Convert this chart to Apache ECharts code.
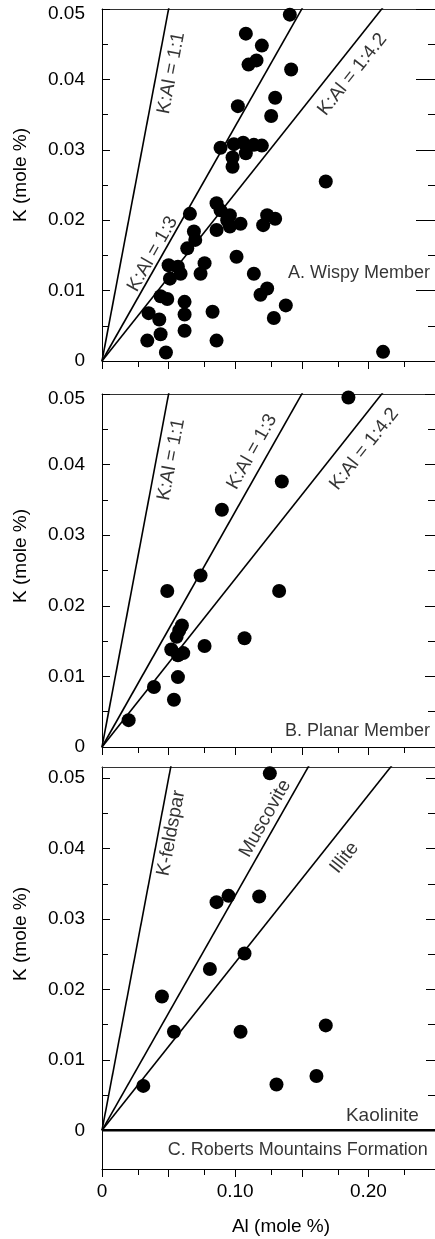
<!DOCTYPE html>
<html><head><meta charset="utf-8">
<script src="https://cdn.jsdelivr.net/npm/echarts@6/dist/echarts.min.js"></script>
<style>html,body{margin:0;padding:0;background:#fff}#chart{width:435px;height:1239px}</style>
</head><body><div id="chart"></div>
<script>
// ---------- DATA ----------
// Panel A: Wispy Member (Al, K in mole %)
const alA = [0.141,0.108,0.120,0.110,0.116,0.142,0.102,0.130,0.127,0.089,0.099,0.106,0.114,0.120,0.108,0.098,0.098,0.168,0.086,0.066,0.089,0.096,0.094,0.104,0.086,0.096,0.124,0.130,0.121,0.069,0.070,0.064,0.050,0.057,0.059,0.051,0.077,0.074,0.101,0.114,0.044,0.049,0.124,0.119,0.138,0.129,0.062,0.062,0.083,0.035,0.043,0.044,0.034,0.062,0.086,0.048,0.211];
const kA  = [0.0492,0.0465,0.0448,0.0421,0.0427,0.0414,0.0362,0.0374,0.0348,0.0303,0.0308,0.0310,0.0307,0.0306,0.0295,0.0289,0.0276,0.0255,0.0224,0.0209,0.0214,0.0207,0.0200,0.0195,0.0186,0.0191,0.0207,0.0202,0.0193,0.0184,0.0172,0.0160,0.0136,0.0134,0.0124,0.0117,0.0139,0.0124,0.0148,0.0124,0.0092,0.0088,0.0103,0.0094,0.0079,0.0061,0.0084,0.0066,0.0070,0.0068,0.0059,0.0038,0.0029,0.0043,0.0029,0.0012,0.0013];
// Panel B: Planar Member
const alB = [0.185,0.135,0.090,0.074,0.049,0.133,0.107,0.060,0.058,0.056,0.052,0.057,0.061,0.077,0.057,0.039,0.054,0.020];
const kB  = [0.0495,0.0376,0.0336,0.0243,0.0221,0.0221,0.0154,0.0172,0.0165,0.0156,0.0138,0.0130,0.0133,0.0143,0.0099,0.0085,0.0067,0.0038];
// Panel C: Roberts Mountains Formation
const alC = [0.126,0.086,0.095,0.118,0.107,0.081,0.045,0.054,0.104,0.168,0.031,0.131,0.161];
const kC  = [0.0507,0.0324,0.0333,0.0332,0.0251,0.0229,0.0190,0.0140,0.0140,0.0149,0.0063,0.0065,0.0077];

// Reference lines (end points, clipped by the plot frame)
const ratioNamesAB = ['K:Al = 1:1','K:Al = 1:3','K:Al = 1:4.2'];
const mineralNamesC = ['K-feldspar','Muscovite','Illite','Kaolinite'];
const lineEndAl = [0.06, 0.18, 0.252, 0.25];
const lineEndK  = [0.06, 0.06, 0.06, 0];
const panelNames = ['A. Wispy Member','B. Planar Member','C. Roberts Mountains Formation'];

// Ticks and tick labels
const xMajorTicks = [0,0.05,0.10,0.15,0.20,0.25];
const xMinorTicks = [0.027,0.077,0.127,0.177,0.227];
const xLabelValues = [0,0.10,0.20];
const xTickLabels = ['0','0.10','0.20'];
const yMajorTicks = [0,0.01,0.02,0.03,0.04,0.05];
const yMinorTicks = [0.005,0.015,0.025,0.035,0.045];
const yTickLabels = ['0','0.01','0.02','0.03','0.04','0.05'];
const xTitle = 'Al (mole %)';
const yTitle = 'K (mole %)';

// ---------- LAYOUT ----------
const FONT = "'Liberation Sans', Arial, Helvetica, sans-serif";
const grids = [
  {left:102, top:9, width:333, height:352},
  {left:102, top:394, width:333, height:353},
  {left:102, top:767, width:333, height:402}
];
const yRange = [[0,0.05],[0,0.05],[-0.0055,0.0516]];
const rightMajorLen = [19,10,9];
const lineLabelPos = [
  [[0.052,0.0409,79.3],[0.038,0.0152,60.5],[0.188,0.0407,51.6]],
  [[0.052,0.0407,79.3],[0.1126,0.0418,60.5],[0.197,0.0422,51.6]],
  [[0.052,0.0422,79.3],[0.1226,0.0443,60.5],[0.182,0.0387,51.6],[0.2105,0.0021,0]]
];
const panelNamePos = [[0.2466,0.0125],[0.2466,0.0022],[0.245,-0.0028]];
const yTitleY = [175,556,934];

const black = '#000';
const xAxis = [], yAxis = [], series = [];
for (let g = 0; g < 3; g++) {
  xAxis.push({
    type:'value', gridIndex:g, position:'bottom', min:0, max:0.25,
    axisLine:{show:true, onZero:false, lineStyle:{color:black, width:1}},
    axisTick:{show:true, inside:false, length:8, customValues:xMajorTicks, lineStyle:{color:black}},
    axisLabel:{show:g===2, customValues:xLabelValues, margin:13, fontSize:19, color:black, fontFamily:FONT,
      formatter:v => xTickLabels[Math.round(v/0.1)]},
    splitLine:{show:false}
  });
  xAxis.push({
    type:'value', gridIndex:g, position:'bottom', min:0, max:0.25,
    axisLine:{show:false, onZero:false},
    axisTick:{show:true, inside:false, length:6, customValues:xMinorTicks, lineStyle:{color:black}},
    axisLabel:{show:false}, splitLine:{show:false}
  });
  xAxis.push({
    type:'value', gridIndex:g, position:'top', min:0, max:0.25,
    axisLine:{show:true, onZero:false, lineStyle:{color:'#333', width:1}},
    axisTick:{show:false}, axisLabel:{show:false}, splitLine:{show:false}
  });
  const [ymin, ymax] = yRange[g];
  yAxis.push({
    type:'value', gridIndex:g, position:'left', min:ymin, max:ymax,
    axisLine:{show:true, onZero:false, lineStyle:{color:black, width:1}},
    axisTick:{show:true, inside:true, length:8, customValues:yMajorTicks, lineStyle:{color:black}},
    axisLabel:{show:true, customValues:yMajorTicks, margin:17, fontSize:19, color:black, fontFamily:FONT,
      formatter:v => { const i = Math.round(v/0.01); return (g<2 && i===5) ? '{t|'+yTickLabels[i]+'}' : yTickLabels[i]; },
      rich:{t:{fontSize:19, fontFamily:FONT, color:black, padding:[10,0,0,0]}}},
    splitLine:{show:false}
  });
  yAxis.push({
    type:'value', gridIndex:g, position:'left', min:ymin, max:ymax,
    axisLine:{show:false, onZero:false},
    axisTick:{show:true, inside:true, length:6, customValues:yMinorTicks, lineStyle:{color:black}},
    axisLabel:{show:false}, splitLine:{show:false}
  });
  yAxis.push({
    type:'value', gridIndex:g, position:'right', min:ymin, max:ymax,
    axisLine:{show:false, onZero:false},
    axisTick:{show:true, inside:true, length:rightMajorLen[g], customValues:yMajorTicks, lineStyle:{color:black}},
    axisLabel:{show:false}, splitLine:{show:false}
  });
  yAxis.push({
    type:'value', gridIndex:g, position:'right', min:ymin, max:ymax,
    axisLine:{show:false, onZero:false},
    axisTick:{show:true, inside:true, length:7, customValues:yMinorTicks, lineStyle:{color:black}},
    axisLabel:{show:false}, splitLine:{show:false}
  });

  const xi = 3*g, yi = 4*g;
  const names = g < 2 ? ratioNamesAB : mineralNamesC;
  names.forEach((nm, j) => {
    series.push({
      type:'line', xAxisIndex:xi, yAxisIndex:yi, silent:true, clip:true,
      symbol:'none', data:[[0,0],[lineEndAl[j], lineEndK[j]]],
      lineStyle:{color:black, width: nm==='Kaolinite' ? 2.6 : 1.6}, z:2
    });
  });
  const al = [alA, alB, alC][g], k = [kA, kB, kC][g];
  series.push({
    type:'scatter', xAxisIndex:xi, yAxisIndex:yi, symbol:'circle', symbolSize:14,
    itemStyle:{color:black, opacity:1}, data: al.map((a,i) => [a, k[i]]), z:3
  });
  series.push({
    type:'scatter', xAxisIndex:xi, yAxisIndex:yi, symbolSize:1, silent:true,
    itemStyle:{color:'rgba(0,0,0,0)'},
    data: names.map((nm, j) => ({name:nm, value:[lineLabelPos[g][j][0], lineLabelPos[g][j][1]],
      label:{rotate:lineLabelPos[g][j][2]}})),
    label:{show:true, position:'inside', formatter:'{b}', fontSize:19, color:black, fontFamily:FONT},
    z:4
  });
  series.push({
    type:'scatter', xAxisIndex:xi, yAxisIndex:yi, symbolSize:1, silent:true,
    itemStyle:{color:'rgba(0,0,0,0)'},
    data:[{name:panelNames[g], value:panelNamePos[g]}],
    label:{show:true, position:'left', distance:0, formatter:'{b}', fontSize:18, color:black, fontFamily:FONT},
    z:4
  });
}

const graphic = yTitleY.map(y => ({
  type:'text', x:21, y:y, rotation:Math.PI/2,
  style:{text:yTitle, fontSize:19, fontFamily:FONT, fill:black, align:'center', verticalAlign:'middle'}
}));
graphic.push({type:'text', x:281, y:1227,
  style:{text:xTitle, fontSize:19, fontFamily:FONT, fill:black, align:'center', verticalAlign:'middle'}});

const chart = echarts.init(document.getElementById('chart'), null, {renderer:'canvas'});
chart.setOption({
  animation:false,
  backgroundColor:'#fff',
  grid: grids.map(gr => Object.assign({containLabel:false}, gr)),
  xAxis, yAxis, series, graphic
});
</script></body></html>
